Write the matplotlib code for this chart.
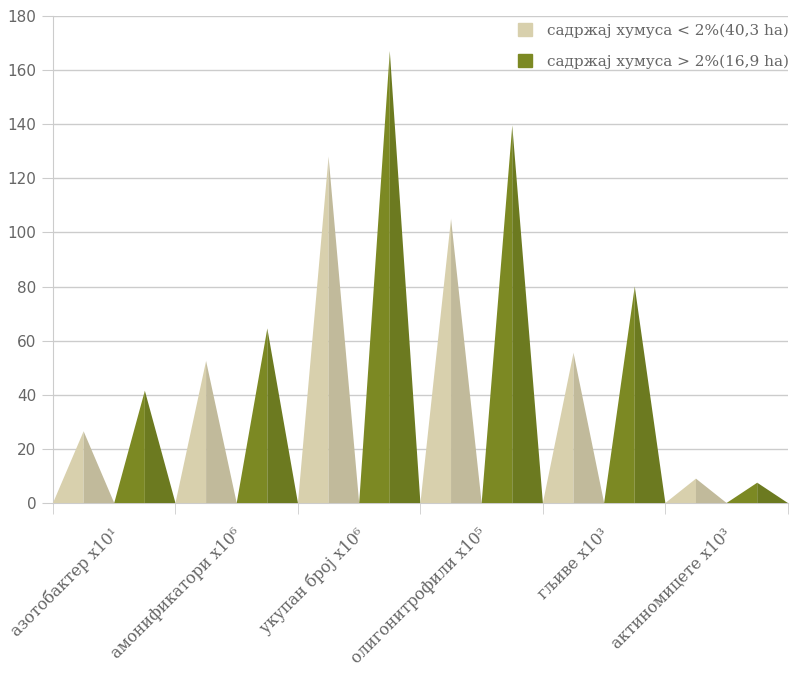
import matplotlib
matplotlib.use("Agg")
from matplotlib import pyplot as plt
from matplotlib.patches import Patch
import numpy as np

# категорије и вредности
categories = ["азотобактер x10¹", "амонификатори x10⁶", "укупан број x10⁶",
              "олигонитрофили x10⁵", "гљиве x10³", "актиномицете x10³"]
low_humus = [26.5, 52.5, 128, 105, 55.5, 9]
high_humus = [41.5, 64.5, 167, 139.5, 80, 7.5]
series_names = ["садржај хумуса < 2%(40,3 ha)", "садржај хумуса > 2%(16,9 ha)"]
yticks = [0, 20, 40, 60, 80, 100, 120, 140, 160, 180]

# боје: лева и десна страна пирамиде
light = ("#d8d0ad", "#c1ba9b")
dark = ("#7c8923", "#6c7a20")
grid_c = "#cccccc"
text_c = "#666666"

fig = plt.figure(figsize=(7.91, 6.73), dpi=100)
ax = fig.add_axes([0.067, 0.2526, 0.929, 0.7236])


def pyramid(x0, x1, h, cols):
    xm = (x0 + x1) / 2
    ax.fill([x0, xm, xm], [0, h, 0], color=cols[0], lw=0, zorder=3)
    ax.fill([xm, xm, x1], [0, h, 0], color=cols[1], lw=0, zorder=3)


for i in range(len(categories)):
    pyramid(i, i + 0.5, low_humus[i], light)
    pyramid(i + 0.5, i + 1, high_humus[i], dark)

ax.set_xlim(0, len(categories))
ax.set_ylim(0, 180)
ax.set_yticks(yticks)
ax.yaxis.grid(True, color=grid_c, lw=1)
ax.set_axisbelow(True)
ax.tick_params(axis="y", length=8, color=grid_c, labelcolor=text_c, labelsize=11, pad=4)

# ознаке категорија у средини, црте на границама
ax.set_xticks(np.arange(len(categories)) + 0.47)
ax.set_xticklabels(categories, rotation=45, ha="right", va="top",
                   rotation_mode="anchor", family="DejaVu Serif",
                   fontsize=11.5, color=text_c)
ax.tick_params(axis="x", which="major", length=0, pad=16)
ax.set_xticks(np.arange(len(categories) + 1), minor=True)
ax.tick_params(axis="x", which="minor", length=8, color=grid_c)

for s in ["top", "right"]:
    ax.spines[s].set_visible(False)
ax.spines["left"].set_color(grid_c)
ax.spines["bottom"].set_color(grid_c)

handles = [Patch(color=light[0]), Patch(color=dark[0])]
leg = ax.legend(handles, series_names, loc="upper right", frameon=False,
                handlelength=0.9, handleheight=0.9, handletextpad=1.0,
                labelspacing=1.05, bbox_to_anchor=(1.02, 1.013),
                prop={"family": "DejaVu Serif", "size": 11})
for t in leg.get_texts():
    t.set_color(text_c)

fig.savefig("out.png", dpi=100)
